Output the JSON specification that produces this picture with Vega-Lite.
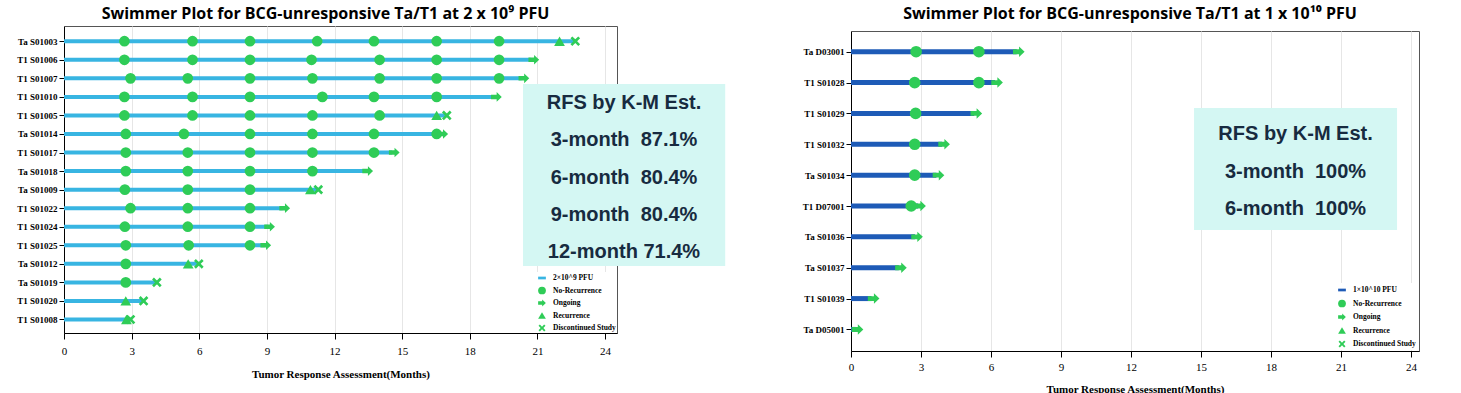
{
  "$schema": "https://vega.github.io/schema/vega-lite/v6.json",
  "background": "white",
  "padding": {"left": 16, "top": 5, "right": 5, "bottom": 5},
  "bounds": "flush",
  "spacing": 234,
  "datasets": {
    "leftBars": [
      {"patient": "Ta S01003", "end": 22.68, "cat": "2×10^9 PFU"},
      {"patient": "T1 S01006", "end": 20.7, "cat": "2×10^9 PFU"},
      {"patient": "T1 S01007", "end": 20.3, "cat": "2×10^9 PFU"},
      {"patient": "T1 S01010", "end": 19.1, "cat": "2×10^9 PFU"},
      {"patient": "T1 S01005", "end": 16.98, "cat": "2×10^9 PFU"},
      {"patient": "Ta S01014", "end": 16.7, "cat": "2×10^9 PFU"},
      {"patient": "T1 S01017", "end": 14.55, "cat": "2×10^9 PFU"},
      {"patient": "Ta S01018", "end": 13.4, "cat": "2×10^9 PFU"},
      {"patient": "Ta S01009", "end": 11.28, "cat": "2×10^9 PFU"},
      {"patient": "T1 S01022", "end": 9.7, "cat": "2×10^9 PFU"},
      {"patient": "T1 S01024", "end": 9.05, "cat": "2×10^9 PFU"},
      {"patient": "T1 S01025", "end": 8.9, "cat": "2×10^9 PFU"},
      {"patient": "Ta S01012", "end": 5.98, "cat": "2×10^9 PFU"},
      {"patient": "Ta S01019", "end": 4.12, "cat": "2×10^9 PFU"},
      {"patient": "T1 S01020", "end": 3.53, "cat": "2×10^9 PFU"},
      {"patient": "T1 S01008", "end": 2.95, "cat": "2×10^9 PFU"}
    ],
    "leftEvents": [
      {"patient": "Ta S01003", "month": 2.68, "cat": "No-Recurrence"},
      {"patient": "Ta S01003", "month": 5.70, "cat": "No-Recurrence"},
      {"patient": "Ta S01003", "month": 8.25, "cat": "No-Recurrence"},
      {"patient": "Ta S01003", "month": 11.23, "cat": "No-Recurrence"},
      {"patient": "Ta S01003", "month": 13.75, "cat": "No-Recurrence"},
      {"patient": "Ta S01003", "month": 16.53, "cat": "No-Recurrence"},
      {"patient": "Ta S01003", "month": 19.30, "cat": "No-Recurrence"},
      {"patient": "T1 S01006", "month": 2.68, "cat": "No-Recurrence"},
      {"patient": "T1 S01006", "month": 5.70, "cat": "No-Recurrence"},
      {"patient": "T1 S01006", "month": 8.25, "cat": "No-Recurrence"},
      {"patient": "T1 S01006", "month": 10.98, "cat": "No-Recurrence"},
      {"patient": "T1 S01006", "month": 14.0, "cat": "No-Recurrence"},
      {"patient": "T1 S01006", "month": 16.53, "cat": "No-Recurrence"},
      {"patient": "T1 S01006", "month": 19.30, "cat": "No-Recurrence"},
      {"patient": "T1 S01007", "month": 2.95, "cat": "No-Recurrence"},
      {"patient": "T1 S01007", "month": 5.49, "cat": "No-Recurrence"},
      {"patient": "T1 S01007", "month": 8.25, "cat": "No-Recurrence"},
      {"patient": "T1 S01007", "month": 11.02, "cat": "No-Recurrence"},
      {"patient": "T1 S01007", "month": 14.0, "cat": "No-Recurrence"},
      {"patient": "T1 S01007", "month": 16.53, "cat": "No-Recurrence"},
      {"patient": "T1 S01007", "month": 19.30, "cat": "No-Recurrence"},
      {"patient": "T1 S01010", "month": 2.68, "cat": "No-Recurrence"},
      {"patient": "T1 S01010", "month": 5.70, "cat": "No-Recurrence"},
      {"patient": "T1 S01010", "month": 8.25, "cat": "No-Recurrence"},
      {"patient": "T1 S01010", "month": 11.46, "cat": "No-Recurrence"},
      {"patient": "T1 S01010", "month": 13.75, "cat": "No-Recurrence"},
      {"patient": "T1 S01010", "month": 16.53, "cat": "No-Recurrence"},
      {"patient": "T1 S01005", "month": 2.68, "cat": "No-Recurrence"},
      {"patient": "T1 S01005", "month": 5.70, "cat": "No-Recurrence"},
      {"patient": "T1 S01005", "month": 8.25, "cat": "No-Recurrence"},
      {"patient": "T1 S01005", "month": 11.02, "cat": "No-Recurrence"},
      {"patient": "T1 S01005", "month": 14.0, "cat": "No-Recurrence"},
      {"patient": "Ta S01014", "month": 2.74, "cat": "No-Recurrence"},
      {"patient": "Ta S01014", "month": 5.32, "cat": "No-Recurrence"},
      {"patient": "Ta S01014", "month": 8.25, "cat": "No-Recurrence"},
      {"patient": "Ta S01014", "month": 11.02, "cat": "No-Recurrence"},
      {"patient": "Ta S01014", "month": 13.75, "cat": "No-Recurrence"},
      {"patient": "Ta S01014", "month": 16.53, "cat": "No-Recurrence"},
      {"patient": "T1 S01017", "month": 2.74, "cat": "No-Recurrence"},
      {"patient": "T1 S01017", "month": 5.49, "cat": "No-Recurrence"},
      {"patient": "T1 S01017", "month": 8.25, "cat": "No-Recurrence"},
      {"patient": "T1 S01017", "month": 11.02, "cat": "No-Recurrence"},
      {"patient": "T1 S01017", "month": 13.75, "cat": "No-Recurrence"},
      {"patient": "Ta S01018", "month": 2.74, "cat": "No-Recurrence"},
      {"patient": "Ta S01018", "month": 5.49, "cat": "No-Recurrence"},
      {"patient": "Ta S01018", "month": 8.25, "cat": "No-Recurrence"},
      {"patient": "Ta S01018", "month": 11.02, "cat": "No-Recurrence"},
      {"patient": "Ta S01009", "month": 2.70, "cat": "No-Recurrence"},
      {"patient": "Ta S01009", "month": 5.49, "cat": "No-Recurrence"},
      {"patient": "Ta S01009", "month": 8.25, "cat": "No-Recurrence"},
      {"patient": "T1 S01022", "month": 2.95, "cat": "No-Recurrence"},
      {"patient": "T1 S01022", "month": 5.49, "cat": "No-Recurrence"},
      {"patient": "T1 S01022", "month": 8.25, "cat": "No-Recurrence"},
      {"patient": "T1 S01024", "month": 2.70, "cat": "No-Recurrence"},
      {"patient": "T1 S01024", "month": 5.49, "cat": "No-Recurrence"},
      {"patient": "T1 S01024", "month": 8.25, "cat": "No-Recurrence"},
      {"patient": "T1 S01025", "month": 2.74, "cat": "No-Recurrence"},
      {"patient": "T1 S01025", "month": 5.53, "cat": "No-Recurrence"},
      {"patient": "T1 S01025", "month": 8.25, "cat": "No-Recurrence"},
      {"patient": "Ta S01012", "month": 2.74, "cat": "No-Recurrence"},
      {"patient": "Ta S01019", "month": 2.74, "cat": "No-Recurrence"},
      {"patient": "T1 S01006", "month": 20.84, "cat": "Ongoing"},
      {"patient": "T1 S01007", "month": 20.4, "cat": "Ongoing"},
      {"patient": "T1 S01010", "month": 19.18, "cat": "Ongoing"},
      {"patient": "Ta S01014", "month": 16.8, "cat": "Ongoing"},
      {"patient": "T1 S01017", "month": 14.65, "cat": "Ongoing"},
      {"patient": "Ta S01018", "month": 13.47, "cat": "Ongoing"},
      {"patient": "T1 S01022", "month": 9.79, "cat": "Ongoing"},
      {"patient": "T1 S01024", "month": 9.12, "cat": "Ongoing"},
      {"patient": "T1 S01025", "month": 8.95, "cat": "Ongoing"},
      {"patient": "Ta S01003", "month": 21.98, "cat": "Recurrence"},
      {"patient": "T1 S01005", "month": 16.53, "cat": "Recurrence"},
      {"patient": "Ta S01009", "month": 10.93, "cat": "Recurrence"},
      {"patient": "Ta S01012", "month": 5.51, "cat": "Recurrence"},
      {"patient": "T1 S01020", "month": 2.74, "cat": "Recurrence"},
      {"patient": "T1 S01008", "month": 2.77, "cat": "Recurrence"},
      {"patient": "Ta S01003", "month": 22.68, "cat": "Discontinued Study"},
      {"patient": "T1 S01005", "month": 16.98, "cat": "Discontinued Study"},
      {"patient": "Ta S01009", "month": 11.28, "cat": "Discontinued Study"},
      {"patient": "Ta S01012", "month": 5.98, "cat": "Discontinued Study"},
      {"patient": "Ta S01019", "month": 4.12, "cat": "Discontinued Study"},
      {"patient": "T1 S01020", "month": 3.53, "cat": "Discontinued Study"},
      {"patient": "T1 S01008", "month": 2.95, "cat": "Discontinued Study"}
    ],
    "rightBars": [
      {"patient": "Ta D03001", "end": 7.1, "cat": "1×10^10 PFU"},
      {"patient": "T1 S01028", "end": 6.17, "cat": "1×10^10 PFU"},
      {"patient": "T1 S01029", "end": 5.28, "cat": "1×10^10 PFU"},
      {"patient": "T1 S01032", "end": 3.9, "cat": "1×10^10 PFU"},
      {"patient": "Ta S01034", "end": 3.66, "cat": "1×10^10 PFU"},
      {"patient": "T1 D07001", "end": 2.87, "cat": "1×10^10 PFU"},
      {"patient": "Ta S01036", "end": 2.74, "cat": "1×10^10 PFU"},
      {"patient": "Ta S01037", "end": 2.05, "cat": "1×10^10 PFU"},
      {"patient": "T1 S01039", "end": 0.88, "cat": "1×10^10 PFU"},
      {"patient": "Ta D05001", "end": 0.2, "cat": "1×10^10 PFU"}
    ],
    "rightEvents": [
      {"patient": "Ta D03001", "month": 2.79, "cat": "No-Recurrence"},
      {"patient": "Ta D03001", "month": 5.48, "cat": "No-Recurrence"},
      {"patient": "T1 S01028", "month": 2.73, "cat": "No-Recurrence"},
      {"patient": "T1 S01028", "month": 5.48, "cat": "No-Recurrence"},
      {"patient": "T1 S01029", "month": 2.77, "cat": "No-Recurrence"},
      {"patient": "T1 S01032", "month": 2.73, "cat": "No-Recurrence"},
      {"patient": "Ta S01034", "month": 2.73, "cat": "No-Recurrence"},
      {"patient": "T1 D07001", "month": 2.58, "cat": "No-Recurrence"},
      {"patient": "Ta D03001", "month": 7.19, "cat": "Ongoing"},
      {"patient": "T1 S01028", "month": 6.26, "cat": "Ongoing"},
      {"patient": "T1 S01029", "month": 5.37, "cat": "Ongoing"},
      {"patient": "T1 S01032", "month": 3.99, "cat": "Ongoing"},
      {"patient": "Ta S01034", "month": 3.75, "cat": "Ongoing"},
      {"patient": "T1 D07001", "month": 2.96, "cat": "Ongoing"},
      {"patient": "Ta S01036", "month": 2.83, "cat": "Ongoing"},
      {"patient": "Ta S01037", "month": 2.14, "cat": "Ongoing"},
      {"patient": "T1 S01039", "month": 0.97, "cat": "Ongoing"},
      {"patient": "Ta D05001", "month": 0.28, "cat": "Ongoing"}
    ],
    "leftText": [
      {"line": 0, "label": "RFS by K-M Est."},
      {"line": 1, "label": "3-month\u00a0 87.1%"},
      {"line": 2, "label": "6-month\u00a0 80.4%"},
      {"line": 3, "label": "9-month\u00a0 80.4%"},
      {"line": 4, "label": "12-month 71.4%"}
    ],
    "rightText": [
      {"line": 0, "label": "RFS by K-M Est."},
      {"line": 1, "label": "3-month\u00a0 100%"},
      {"line": 2, "label": "6-month\u00a0 100%"}
    ]
  },
  "hconcat": [
    {
      "width": 553,
      "height": 307,
      "title": {"text": "Swimmer Plot for BCG-unresponsive Ta/T1 at 2 x 10⁹ PFU", "dx": -15, "offset": 4},
      "layer": [
        {
          "layer": [
            {
              "data": {"name": "leftBars"},
              "mark": {"type": "bar", "size": 4},
              "encoding": {
                "y": {"field": "patient", "type": "nominal", "sort": null,
                  "scale": {"type": "point", "padding": 0.775, "align": 0.53,
                    "domain": ["Ta S01003","T1 S01006","T1 S01007","T1 S01010","T1 S01005","Ta S01014","T1 S01017","Ta S01018","Ta S01009","T1 S01022","T1 S01024","T1 S01025","Ta S01012","Ta S01019","T1 S01020","T1 S01008"]},
                  "axis": {"title": null, "labelFont": "Liberation Serif", "labelFontWeight": "bold", "labelFontSize": 9, "tickSize": 5, "labelPadding": 2, "grid": false}},
                "x": {"field": "end", "type": "quantitative",
                  "scale": {"domain": [0, 24.53], "nice": false, "zero": true},
                  "axis": {"values": [0,3,6,9,12,15,18,21,24], "grid": true, "gridColor": "#e6e6e6", "tickSize": 6, "labelPadding": 6, "labelFontSize": 11, "title": "Tumor Response Assessment(Months)", "titleFontSize": 11, "titleFontWeight": "bold", "titlePadding": 12, "labelFlush": false}},
                "color": {"field": "cat", "type": "nominal",
                  "scale": {"domain": ["2×10^9 PFU","No-Recurrence","Ongoing","Recurrence","Discontinued Study"], "range": ["#38b5e2","#2fcc57","#2fcc57","#2fcc57","#2fcc57"]},
                  "legend": {"title": null, "orient": "bottom-right", "offset": 0, "padding": 1, "fillColor": "white", "labelFont": "Liberation Serif", "labelFontWeight": "bold", "labelFontSize": 7.5, "labelColor": "#000", "symbolSize": 60, "rowPadding": 3.5, "labelOffset": 6}}
              }
            },
            {
              "data": {"name": "leftEvents"},
              "mark": {"type": "point", "filled": true, "opacity": 1, "size": 115},
              "encoding": {
                "y": {"field": "patient", "type": "nominal", "sort": null},
                "x": {"field": "month", "type": "quantitative"},
                "color": {"field": "cat", "type": "nominal"},
                "shape": {"field": "cat", "type": "nominal",
                  "scale": {"domain": ["2×10^9 PFU","No-Recurrence","Ongoing","Recurrence","Discontinued Study"],
                    "range": ["M-1,-0.35L1,-0.35L1,0.35L-1,0.35Z","circle","M-1,-0.42L0.05,-0.42L0.05,-0.9L1,0L0.05,0.9L0.05,0.42L-1,0.42Z","triangle-up","M-0.9,-0.55L-0.55,-0.9L0,-0.35L0.55,-0.9L0.9,-0.55L0.35,0L0.9,0.55L0.55,0.9L0,0.35L-0.55,0.9L-0.9,0.55L-0.35,0Z"]},
                  "legend": {"title": null, "orient": "bottom-right", "offset": 0, "padding": 1, "fillColor": "white", "labelFont": "Liberation Serif", "labelFontWeight": "bold", "labelFontSize": 7.5, "labelColor": "#000", "symbolSize": 60, "rowPadding": 3.5, "labelOffset": 6}}
              }
            }
          ]
        },
        {
          "data": {"values": [{"box": "RFS"}]},
          "mark": {"type": "rect", "color": "#d4f7f3"},
          "encoding": {
            "x": {"datum": 20.36, "type": "quantitative", "scale": {"domain": [0, 24.53], "nice": false}, "axis": null},
            "x2": {"datum": 29.33},
            "y": {"datum": -0.51, "type": "quantitative", "scale": {"domain": [-2.067, 6.174], "reverse": true, "nice": false, "zero": false}, "axis": null},
            "y2": {"datum": 4.376}
          }
        },
        {
          "data": {"name": "leftText"},
          "mark": {"type": "text", "font": "Liberation Sans", "fontWeight": "bold", "fontSize": 20, "color": "#172b40", "align": "center", "baseline": "middle"},
          "encoding": {
            "x": {"datum": 24.84, "type": "quantitative", "scale": {"domain": [0, 24.53], "nice": false}, "axis": null},
            "y": {"field": "line", "type": "quantitative", "scale": {"domain": [-2.067, 6.174], "reverse": true, "nice": false, "zero": false}, "axis": null},
            "text": {"field": "label"}
          }
        }
      ],
      "resolve": {"scale": {"x": "independent", "y": "independent"}, "axis": {"x": "independent", "y": "independent"}}
    },
    {
      "bounds": "flush",
      "spacing": 4,
      "resolve": {
        "scale": {"x": "independent", "y": "independent", "color": "independent", "shape": "independent"},
        "legend": {"color": "independent", "shape": "independent"}
      },
      "vconcat": [
        {"width": 568, "height": 1, "data": {"values": []}, "mark": "point", "view": {"stroke": null}},
        {
          "width": 568,
          "height": 320,
          "title": {"text": "Swimmer Plot for BCG-unresponsive Ta/T1 at 1 x 10¹⁰ PFU", "dx": -5, "offset": 9},
          "layer": [
            {
              "layer": [
                {
                  "data": {"name": "rightBars"},
                  "mark": {"type": "bar", "size": 5},
                  "encoding": {
                    "y": {"field": "patient", "type": "nominal", "sort": null,
                      "scale": {"type": "point", "padding": 0.685, "align": 0.49,
                        "domain": ["Ta D03001","T1 S01028","T1 S01029","T1 S01032","Ta S01034","T1 D07001","Ta S01036","Ta S01037","T1 S01039","Ta D05001"]},
                      "axis": {"title": null, "labelFont": "Liberation Serif", "labelFontWeight": "bold", "labelFontSize": 9, "tickSize": 5, "labelPadding": 2, "grid": false}},
                    "x": {"field": "end", "type": "quantitative",
                      "scale": {"domain": [0, 24.34], "nice": false, "zero": true},
                      "axis": {"values": [0,3,6,9,12,15,18,21,24], "grid": true, "gridColor": "#e6e6e6", "tickSize": 6, "labelPadding": 4, "labelFontSize": 11, "title": "Tumor Response Assessment(Months)", "titleFontSize": 11, "titleFontWeight": "bold", "titlePadding": 11, "labelFlush": false}},
                    "color": {"field": "cat", "type": "nominal",
                      "scale": {"domain": ["1×10^10 PFU","No-Recurrence","Ongoing","Recurrence","Discontinued Study"], "range": ["#1e5bb7","#2fcc57","#2fcc57","#2fcc57","#2fcc57"]},
                      "legend": {"title": null, "orient": "bottom-right", "offset": 1, "padding": 2, "fillColor": "white", "labelFont": "Liberation Serif", "labelFontWeight": "bold", "labelFontSize": 7.5, "labelColor": "#000", "symbolSize": 60, "rowPadding": 4.5, "labelOffset": 6}}
                  }
                },
                {
                  "data": {"name": "rightEvents"},
                  "mark": {"type": "point", "filled": true, "opacity": 1, "size": 135},
                  "encoding": {
                    "y": {"field": "patient", "type": "nominal", "sort": null},
                    "x": {"field": "month", "type": "quantitative"},
                    "color": {"field": "cat", "type": "nominal"},
                    "shape": {"field": "cat", "type": "nominal",
                      "scale": {"domain": ["1×10^10 PFU","No-Recurrence","Ongoing","Recurrence","Discontinued Study"],
                        "range": ["M-1,-0.35L1,-0.35L1,0.35L-1,0.35Z","circle","M-1,-0.42L0.05,-0.42L0.05,-0.9L1,0L0.05,0.9L0.05,0.42L-1,0.42Z","triangle-up","M-0.9,-0.55L-0.55,-0.9L0,-0.35L0.55,-0.9L0.9,-0.55L0.35,0L0.9,0.55L0.55,0.9L0,0.35L-0.55,0.9L-0.9,0.55L-0.35,0Z"]},
                      "legend": {"title": null, "orient": "bottom-right", "offset": 1, "padding": 2, "fillColor": "white", "labelFont": "Liberation Serif", "labelFontWeight": "bold", "labelFontSize": 7.5, "labelColor": "#000", "symbolSize": 60, "rowPadding": 4.5, "labelOffset": 6}}
                  }
                }
              ]
            },
            {
              "data": {"values": [{"box": "RFS"}]},
              "mark": {"type": "rect", "color": "#d4f7f3"},
              "encoding": {
                "x": {"datum": 14.70, "type": "quantitative", "scale": {"domain": [0, 24.34], "nice": false}, "axis": null},
                "x2": {"datum": 23.40},
                "y": {"datum": -0.693, "type": "quantitative", "scale": {"domain": [-2.747, 5.787], "reverse": true, "nice": false, "zero": false}, "axis": null},
                "y2": {"datum": 2.56}
              }
            },
            {
              "data": {"name": "rightText"},
              "mark": {"type": "text", "font": "Liberation Sans", "fontWeight": "bold", "fontSize": 20, "color": "#172b40", "align": "center", "baseline": "middle"},
              "encoding": {
                "x": {"datum": 19.05, "type": "quantitative", "scale": {"domain": [0, 24.34], "nice": false}, "axis": null},
                "y": {"field": "line", "type": "quantitative", "scale": {"domain": [-2.747, 5.787], "reverse": true, "nice": false, "zero": false}, "axis": null},
                "text": {"field": "label"}
              }
            }
          ],
          "resolve": {"scale": {"x": "independent", "y": "independent"}, "axis": {"x": "independent", "y": "independent"}}
        }
      ]
    }
  ],
  "resolve": {
    "scale": {"x": "independent", "y": "independent", "color": "independent", "shape": "independent"},
    "legend": {"color": "independent", "shape": "independent"}
  },
  "config": {
    "view": {"stroke": "#555", "strokeWidth": 1},
    "axis": {"domainColor": "#000", "tickColor": "#000", "labelColor": "#000", "titleColor": "#000", "labelFont": "Liberation Serif", "titleFont": "Liberation Serif"},
    "title": {"font": "Open Sans", "fontSize": 16, "fontWeight": "bold", "color": "#000", "anchor": "middle"}
  }
}
